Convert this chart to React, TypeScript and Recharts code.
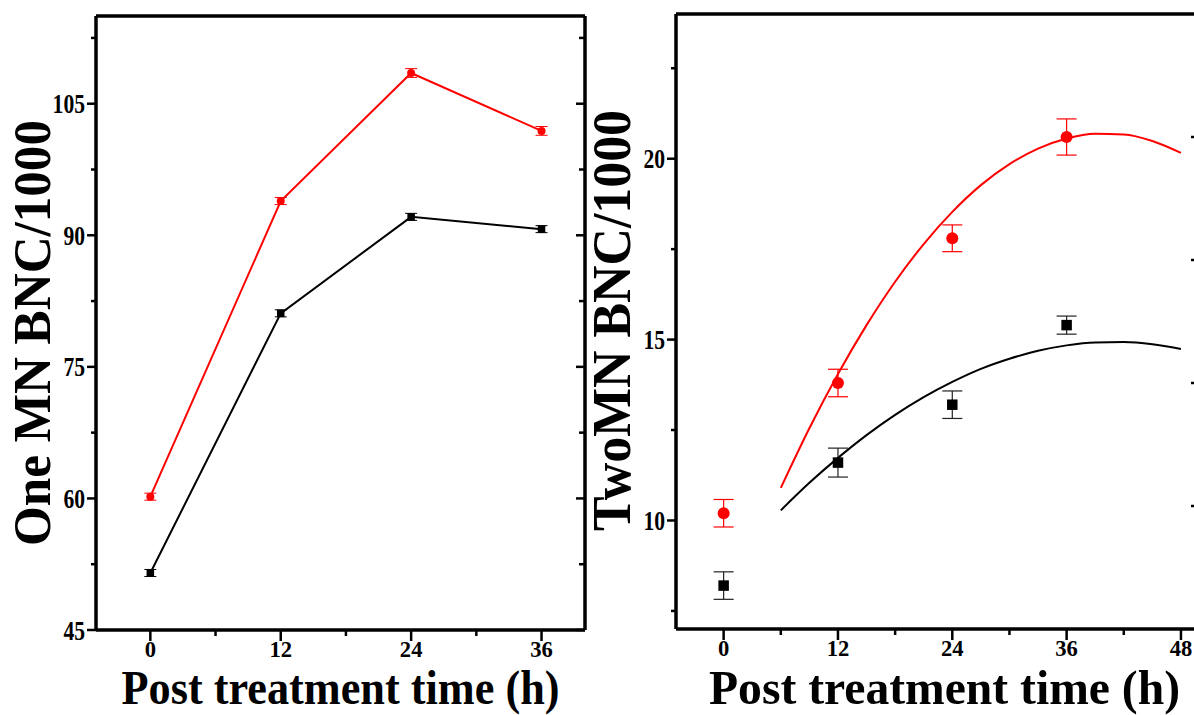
import React from 'react';
import { ComposedChart, Line, Scatter, XAxis, YAxis, ErrorBar } from 'recharts';

const FONT = '"Liberation Serif", "Times New Roman", Times, serif';

// ---------- Left panel: One MN BNC/1000 ----------
const leftTimes = [0, 12, 24, 36];
const oneMnRed = [60.2, 93.9, 108.5, 101.9];
const oneMnRedErr = [0.4, 0.4, 0.5, 0.5];
const oneMnBlack = [51.5, 81.1, 92.1, 90.7];
const oneMnBlackErr = [0.4, 0.4, 0.4, 0.4];
const leftYMajor = [45, 60, 75, 90, 105];
const leftYMinor = [52.5, 67.5, 82.5, 97.5, 112.5];
const leftXMajor = [0, 12, 24, 36];
const leftXMinor = [6, 18, 30];

// ---------- Right panel: TwoMN BNC/1000 ----------
const rightTimes = [0, 12, 24, 36];
const twoMnRed = [10.2, 13.8, 17.8, 20.6];
const twoMnRedErr = [0.38, 0.38, 0.37, 0.5];
const twoMnBlack = [8.2, 11.6, 13.2, 15.4];
const twoMnBlackErr = [0.38, 0.4, 0.38, 0.25];
const fitTimes = [6, 9, 12, 15, 18, 21, 24, 27, 30, 33, 36, 39, 42, 45, 48];
const fitRed = [10.9, 12.55, 14.05, 15.4, 16.6, 17.64, 18.53, 19.27, 19.85, 20.28, 20.56, 20.69, 20.67, 20.49, 20.16];
const fitBlack = [10.28, 11.04, 11.73, 12.36, 12.92, 13.41, 13.83, 14.19, 14.47, 14.69, 14.84, 14.92, 14.93, 14.87, 14.74];
const rightYMajor = [10, 15, 20];
const rightYMinor = [7.5, 12.5, 17.5, 22.5];
const rightXMajor = [0, 12, 24, 36, 48];
const rightXMinor = [6, 18, 30, 42];
const rightTopTicks = [0.5, 6, 11.5, 17, 22.5, 28, 33.5, 39, 44.5];
const rightSideTicks = [1, 2, 3, 4];

const toPts = (xs: number[], ys: number[], es?: number[]) =>
  xs.map((x, i) => ({ x, y: ys[i], e: es ? es[i] : 0 }));

const leftRedData = toPts(leftTimes, oneMnRed, oneMnRedErr);
const leftBlackData = toPts(leftTimes, oneMnBlack, oneMnBlackErr);
const rightRedData = toPts(rightTimes, twoMnRed, twoMnRedErr);
const rightBlackData = toPts(rightTimes, twoMnBlack, twoMnBlackErr);
const fitRedData = toPts(fitTimes, fitRed);
const fitBlackData = toPts(fitTimes, fitBlack);

const TW = 2.5;

const numText = (v: number, x: number, y: number, anchor: string, size: number, cw: number) => {
  const s = String(v);
  return (
    <text
      x={x}
      y={y}
      textAnchor={anchor as any}
      fontFamily={FONT}
      fontWeight="bold"
      fontSize={size}
      textLength={s.length * cw}
      lengthAdjust="spacingAndGlyphs"
      fill="#000"
    >
      {s}
    </text>
  );
};

const bottomTick = (majors: number[]) => (p: any) => {
  const v = p.payload.value;
  const major = majors.includes(v);
  return (
    <g key={`b-${v}`}>
      <line x1={p.x} x2={p.x} y1={p.y} y2={p.y + (major ? 11 : 6)} stroke="#000" strokeWidth={TW} />
      {major && numText(v, p.x, p.y + 27, 'middle', 24, 11.3)}
    </g>
  );
};

const leftTick = (majors: number[]) => (p: any) => {
  const v = p.payload.value;
  const major = majors.includes(v);
  return (
    <g key={`l-${v}`}>
      <line x1={p.x - (major ? 9 : 5)} x2={p.x} y1={p.y} y2={p.y} stroke="#000" strokeWidth={TW} />
      {major && numText(v, p.x - 11, p.y + 9.5, 'end', 27, 10.8)}
    </g>
  );
};

const topTick = (majors: number[] | null, big: number, small: number) => (p: any) => {
  const v = p.payload.value;
  const major = majors ? majors.includes(v) : true;
  return <line key={`t-${v}`} x1={p.x} x2={p.x} y1={p.y} y2={p.y + (major ? big : small)} stroke="#000" strokeWidth={TW} />;
};

const rightTick = (majors: number[] | null, big: number, small: number) => (p: any) => {
  const v = p.payload.value;
  const major = majors ? majors.includes(v) : true;
  return <line key={`r-${v}`} x1={p.x - (major ? big : small)} x2={p.x} y1={p.y} y2={p.y} stroke="#000" strokeWidth={TW} />;
};

const titleText = (txt: string, x: number, y: number, size: number, len: number, rotate: boolean) => (
  <text
    x={x}
    y={y}
    transform={rotate ? `rotate(-90, ${x}, ${y})` : undefined}
    textAnchor="middle"
    fontFamily={FONT}
    fontWeight="bold"
    fontSize={size}
    textLength={len}
    lengthAdjust="spacingAndGlyphs"
    fill="#000"
  >
    {txt}
  </text>
);

const squareDot = (size: number, color: string) => (p: any) => {
  if (p.cx == null || p.cy == null) return <g key={`sq-${p.index}`} />;
  return <rect key={`sq-${p.index}`} x={p.cx - size / 2} y={p.cy - size / 2} width={size} height={size} fill={color} />;
};

const circleDot = (r: number, color: string) => (p: any) => {
  if (p.cx == null || p.cy == null) return <g key={`c-${p.index}`} />;
  return <circle key={`c-${p.index}`} cx={p.cx} cy={p.cy} r={r} fill={color} />;
};

const AXIS_W = 3.5;
const RIGHT_OFFSET = 560;

function LeftPanel() {
  return (
    <ComposedChart width={650} height={715} margin={{ top: 0, right: 60, bottom: 0, left: 0 }}>
      <XAxis
        xAxisId="b"
        type="number"
        dataKey="x"
        domain={[-5, 40]}
        allowDataOverflow
        ticks={[...leftXMajor, ...leftXMinor].sort((a, b) => a - b)}
        interval={0}
        height={85}
        tickSize={0}
        tickMargin={0}
        tickLine={false}
        axisLine={{ stroke: '#000', strokeWidth: AXIS_W }}
        tick={bottomTick(leftXMajor)}
        label={() => titleText('Post treatment time (h)', 340.5, 703.5, 48, 438, false)}
      />
      <XAxis
        xAxisId="t"
        orientation="top"
        type="number"
        domain={[-5, 40]}
        allowDataOverflow
        ticks={[...leftXMajor, ...leftXMinor].sort((a, b) => a - b)}
        interval={0}
        height={16}
        tickSize={0}
        tickMargin={0}
        tickLine={false}
        axisLine={{ stroke: '#000', strokeWidth: AXIS_W }}
        tick={topTick(leftXMajor, 10, 7)}
      />
      <YAxis
        yAxisId="l"
        type="number"
        dataKey="y"
        domain={[45, 115]}
        allowDataOverflow
        ticks={[...leftYMajor, ...leftYMinor].sort((a, b) => a - b)}
        interval={0}
        width={96}
        tickSize={0}
        tickMargin={0}
        tickLine={false}
        axisLine={{ stroke: '#000', strokeWidth: AXIS_W }}
        tick={leftTick(leftYMajor)}
        label={() => titleText('One MN BNC/1000', 50, 333, 53, 426, true)}
      />
      <YAxis
        yAxisId="r"
        orientation="right"
        type="number"
        domain={[45, 115]}
        allowDataOverflow
        ticks={[...leftYMajor, ...leftYMinor].sort((a, b) => a - b)}
        interval={0}
        width={5}
        tickSize={0}
        tickMargin={0}
        tickLine={false}
        axisLine={{ stroke: '#000', strokeWidth: AXIS_W }}
        tick={rightTick(leftYMajor, 9, 6)}
      />
      <Line
        xAxisId="b"
        yAxisId="l"
        data={leftBlackData}
        dataKey="y"
        stroke="#000"
        strokeWidth={2}
        dot={squareDot(7.5, '#000')}
        isAnimationActive={false}
      >
        <ErrorBar dataKey="e" direction="y" width={6} stroke="#000" strokeWidth={1} />
      </Line>
      <Line
        xAxisId="b"
        yAxisId="l"
        data={leftRedData}
        dataKey="y"
        stroke="#ff0000"
        strokeWidth={2}
        dot={circleDot(4, '#ff0000')}
        isAnimationActive={false}
      >
        <ErrorBar dataKey="e" direction="y" width={6} stroke="#ff0000" strokeWidth={1} />
      </Line>
    </ComposedChart>
  );
}

function RightPanel() {
  return (
    <ComposedChart width={645} height={715} margin={{ top: 0, right: 0, bottom: 0, left: 0 }}>
      <XAxis
        xAxisId="b"
        type="number"
        dataKey="x"
        domain={[-5, 50]}
        allowDataOverflow
        ticks={[...rightXMajor, ...rightXMinor].sort((a, b) => a - b)}
        interval={0}
        height={86}
        tickSize={0}
        tickMargin={0}
        tickLine={false}
        axisLine={{ stroke: '#000', strokeWidth: AXIS_W }}
        tick={bottomTick(rightXMajor)}
        label={() => titleText('Post treatment time (h)', 944.5 - RIGHT_OFFSET, 704, 49, 471, false)}
      />
      <XAxis
        xAxisId="t"
        orientation="top"
        type="number"
        domain={[-5, 50]}
        allowDataOverflow
        ticks={rightTopTicks}
        interval={0}
        height={14}
        tickSize={0}
        tickMargin={0}
        tickLine={false}
        axisLine={{ stroke: '#000', strokeWidth: AXIS_W }}
        tick={topTick(null, 7, 7)}
      />
      <YAxis
        yAxisId="l"
        type="number"
        dataKey="y"
        domain={[7, 24]}
        allowDataOverflow
        ticks={[...rightYMajor, ...rightYMinor].sort((a, b) => a - b)}
        interval={0}
        width={676 - RIGHT_OFFSET}
        tickSize={0}
        tickMargin={0}
        tickLine={false}
        axisLine={{ stroke: '#000', strokeWidth: AXIS_W }}
        tick={leftTick(rightYMajor)}
        label={() => titleText('TwoMN BNC/1000', 630 - RIGHT_OFFSET, 320.5, 54, 421, true)}
      />
      <YAxis
        yAxisId="r"
        orientation="right"
        type="number"
        domain={[0, 5]}
        allowDataOverflow
        ticks={rightSideTicks}
        interval={0}
        width={5}
        tickSize={0}
        tickMargin={0}
        tickLine={false}
        axisLine={{ stroke: '#000', strokeWidth: AXIS_W }}
        tick={rightTick(null, 9, 9)}
      />
      <Line
        xAxisId="b"
        yAxisId="l"
        data={fitBlackData}
        dataKey="y"
        type="monotone"
        stroke="#000"
        strokeWidth={2}
        dot={false}
        isAnimationActive={false}
      />
      <Line
        xAxisId="b"
        yAxisId="l"
        data={fitRedData}
        dataKey="y"
        type="monotone"
        stroke="#ff0000"
        strokeWidth={2}
        dot={false}
        isAnimationActive={false}
      />
      <Scatter
        xAxisId="b"
        yAxisId="l"
        data={rightBlackData}
        dataKey="y"
        fill="#000"
        shape={squareDot(10.5, '#000')}
        isAnimationActive={false}
      >
        <ErrorBar dataKey="e" direction="y" width={10} stroke="#222" strokeWidth={1.2} />
      </Scatter>
      <Scatter
        xAxisId="b"
        yAxisId="l"
        data={rightRedData}
        dataKey="y"
        fill="#ff0000"
        shape={circleDot(6, '#ff0000')}
        isAnimationActive={false}
      >
        <ErrorBar dataKey="e" direction="y" width={10} stroke="#ff0000" strokeWidth={1.2} />
      </Scatter>
    </ComposedChart>
  );
}

export default function App() {
  return (
    <div
      style={{
        position: 'absolute',
        left: 0,
        top: 0,
        width: 1194,
        height: 715,
        overflow: 'hidden',
        background: '#fff',
      }}
    >
      <div style={{ position: 'absolute', left: 0, top: 0 }}>
        <LeftPanel />
      </div>
      <div style={{ position: 'absolute', left: RIGHT_OFFSET, top: 0 }}>
        <RightPanel />
      </div>
    </div>
  );
}
